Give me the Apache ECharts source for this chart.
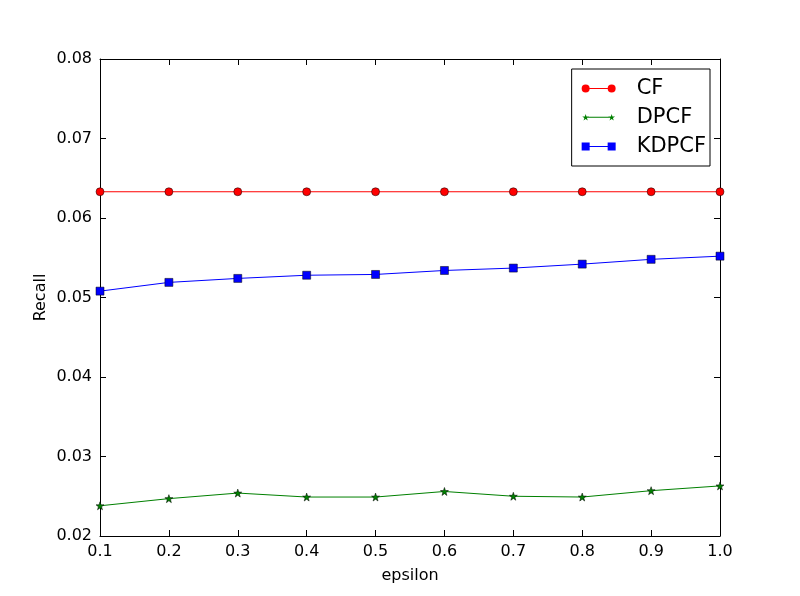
<!DOCTYPE html>
<html>
<head>
<meta charset="utf-8">
<script src="https://cdn.jsdelivr.net/npm/echarts@6/dist/echarts.min.js"></script>
<style>
html,body{margin:0;padding:0;background:#fff;}
#chart{width:800px;height:596px;}
</style>
</head>
<body>
<div id="chart"></div>
<script>
// epsilon values on the x axis
var epsilon = ['0.1','0.2','0.3','0.4','0.5','0.6','0.7','0.8','0.9','1.0'];
// recall per method
var cf    = [0.0633,0.0633,0.0633,0.0633,0.0633,0.0633,0.0633,0.0633,0.0633,0.0633];
var dpcf  = [0.0238,0.0247,0.0254,0.0249,0.0249,0.0256,0.0250,0.0249,0.0257,0.0263];
var kdpcf = [0.0508,0.0519,0.0524,0.0528,0.0529,0.0534,0.0537,0.0542,0.0548,0.0552];

var font = 'DejaVu Sans';
var starPath = 'path://M0,-10L2.35,-3.24L9.51,-3.09L3.8,1.24L5.88,8.09L0,4L-5.88,8.09L-3.8,1.24L-9.51,-3.09L-2.35,-3.24Z';

// legend icons: line with a marker at both ends, like matplotlib
var iconCF = 'path://M0,4A4,4,0,1,1,8,4A4,4,0,1,1,0,4ZM26,4A4,4,0,1,1,34,4A4,4,0,1,1,26,4ZM8,3.5L26,3.5L26,4.5L8,4.5Z';
var iconDP = 'path://M4,0.4L4.8,2.9L7.4,2.9L5.3,4.5L6.1,7L4,5.5L1.9,7L2.7,4.5L0.6,2.9L3.2,2.9Z' +
             'M30,0.4L30.8,2.9L33.4,2.9L31.3,4.5L32.1,7L30,5.5L27.9,7L28.7,4.5L26.6,2.9L29.2,2.9Z' +
             'M6,3.2L28,3.2L28,4.2L6,4.2Z' +
             'M0,0L0.01,0L0.01,0.01ZM34,8L33.99,8L33.99,7.99Z';
var iconKD = 'path://M0,0L8,0L8,8L0,8ZM26,0L34,0L34,8L26,8ZM8,3.5L26,3.5L26,4.5L8,4.5Z';

var myChart = echarts.init(document.getElementById('chart'));

var tickIn = {show:true, inside:true, length:6, lineStyle:{color:'#000', width:1}};
var option = {
    animation:false,
    backgroundColor:'#fff',
    textStyle:{fontFamily:font},
    grid:{left:100, right:80, top:59, bottom:60},
    legend:{
        orient:'vertical',
        right:90, top:69,
        padding:[9,4,9,10],
        borderColor:'#000', borderWidth:1,
        itemWidth:34, itemHeight:8, itemGap:8,
        itemStyle:{borderWidth:0},
        textStyle:{fontFamily:font, fontSize:21, color:'#000', padding:[0,0,0,16]},
        data:[{name:'CF', icon:iconCF},{name:'DPCF', icon:iconDP},{name:'KDPCF', icon:iconKD}]
    },
    xAxis:[{
        type:'category', data:epsilon, boundaryGap:false,
        name:'epsilon', nameLocation:'middle', nameGap:32,
        nameTextStyle:{fontFamily:font, fontSize:16, color:'#000'},
        axisLine:{lineStyle:{color:'#000', width:1}},
        axisTick:tickIn,
        axisLabel:{fontFamily:font, fontSize:16, color:'#000', margin:8},
        splitLine:{show:false}
    },{
        type:'category', data:epsilon, boundaryGap:false, position:'top',
        axisLine:{lineStyle:{color:'#000', width:1}},
        axisTick:tickIn, axisLabel:{show:false}, splitLine:{show:false}
    }],
    yAxis:[{
        type:'value', min:0.02, max:0.08, interval:0.01,
        name:'Recall', nameLocation:'middle', nameGap:51, nameMoveOverlap:false,
        nameTextStyle:{fontFamily:font, fontSize:16, color:'#000'},
        axisLine:{show:true, lineStyle:{color:'#000', width:1}},
        axisTick:tickIn,
        axisLabel:{fontFamily:font, fontSize:16, color:'#000', margin:8,
            formatter:function(v){return v.toFixed(2);}},
        splitLine:{show:false}
    },{
        type:'value', min:0.02, max:0.08, interval:0.01, position:'right',
        axisLine:{show:true, lineStyle:{color:'#000', width:1}},
        axisTick:tickIn, axisLabel:{show:false}, splitLine:{show:false}
    }],
    series:[{
        name:'CF', type:'line', data:cf,
        symbol:'circle', symbolSize:8,
        lineStyle:{color:'#ff0000', width:1},
        itemStyle:{color:'#ff0000', borderColor:'#000', borderWidth:0.5}
    },{
        name:'DPCF', type:'line', data:dpcf,
        symbol:starPath, symbolSize:8,
        lineStyle:{color:'#008000', width:1},
        itemStyle:{color:'#008000', borderColor:'#000', borderWidth:0.5}
    },{
        name:'KDPCF', type:'line', data:kdpcf,
        symbol:'rect', symbolSize:8,
        lineStyle:{color:'#0000ff', width:1},
        itemStyle:{color:'#0000ff', borderColor:'#000', borderWidth:0.5}
    }]
};
myChart.setOption(option);
</script>
</body>
</html>
